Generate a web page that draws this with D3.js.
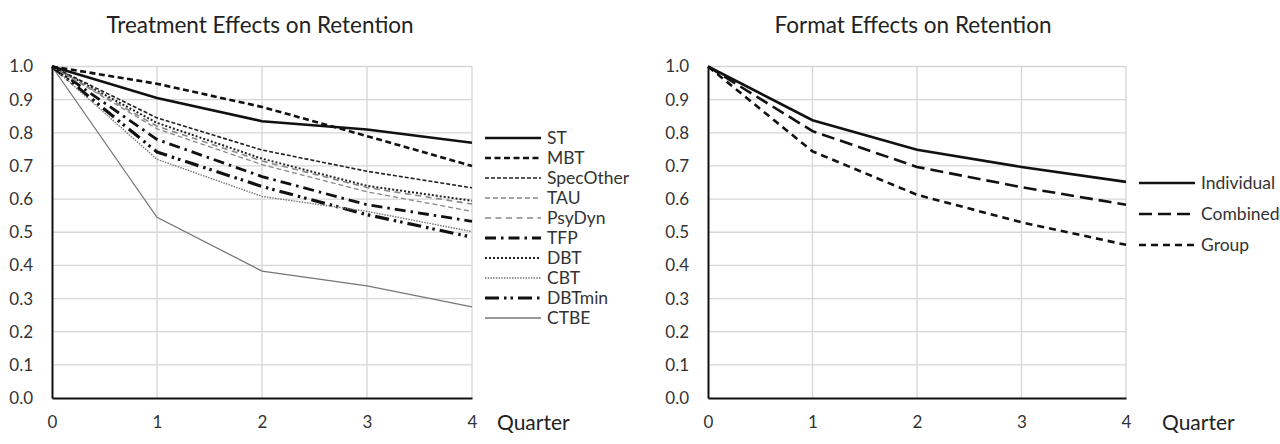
<!DOCTYPE html>
<html>
<head>
<meta charset="utf-8">
<script src="https://cdn.jsdelivr.net/npm/d3@7"></script>
<style>
  body { margin: 0; background: #fff; }
  svg { display: block; font-family: Lato, "Open Sans", sans-serif; }
</style>
</head>
<body>
<svg id="chart" width="1280" height="444"></svg>
<script>
// ── Data ──
const quarters = [0, 1, 2, 3, 4];
const yTicks = [0, 0.1, 0.2, 0.3, 0.4, 0.5, 0.6, 0.7, 0.8, 0.9, 1.0];

const treatmentNames = ["ST", "MBT", "SpecOther", "TAU", "PsyDyn", "TFP", "DBT", "CBT", "DBTmin", "CTBE"];
const stValues        = [1, 0.905, 0.835, 0.81, 0.77];
const mbtValues       = [1, 0.948, 0.878, 0.79, 0.70];
const specOtherValues = [1, 0.845, 0.748, 0.684, 0.634];
const tauValues       = [1, 0.812, 0.704, 0.622, 0.563];
const psyDynValues    = [1, 0.82, 0.715, 0.635, 0.585];
const tfpValues       = [1, 0.78, 0.668, 0.583, 0.533];
const dbtValues       = [1, 0.83, 0.722, 0.64, 0.595];
const cbtValues       = [1, 0.72, 0.608, 0.563, 0.502];
const dbtMinValues    = [1, 0.742, 0.638, 0.553, 0.485];
const ctbeValues      = [1, 0.545, 0.383, 0.338, 0.275];

const formatNames = ["Individual", "Combined", "Group"];
const individualValues = [1, 0.838, 0.749, 0.697, 0.652];
const combinedValues   = [1, 0.805, 0.697, 0.636, 0.583];
const groupValues      = [1, 0.744, 0.613, 0.530, 0.462];

// ── Styles per series ──
const treatmentStyles = {
  ST:        { color: "#111", width: 2.6, dash: null },
  MBT:       { color: "#111", width: 2.6, dash: "6,3.5" },
  SpecOther: { color: "#222", width: 1.6, dash: "4,2" },
  TAU:       { color: "#888", width: 1.3, dash: "5,3" },
  PsyDyn:    { color: "#888", width: 1.6, dash: "6,4.5" },
  TFP:       { color: "#111", width: 2.8, dash: "11,5,2.5,5" },
  DBT:       { color: "#222", width: 2.0, dash: "2,2" },
  CBT:       { color: "#777", width: 1.4, dash: "1.5,1.2" },
  DBTmin:    { color: "#111", width: 3.2, dash: "14,5,2.5,4,2.5,5" },
  CTBE:      { color: "#777", width: 1.3, dash: null }
};
const formatStyles = {
  Individual: { color: "#111", width: 2.6, dash: null },
  Combined:   { color: "#111", width: 2.6, dash: "13,6" },
  Group:      { color: "#111", width: 2.6, dash: "7,5" }
};

const treatmentSeries = treatmentNames.map((name, i) => ({
  name,
  values: [stValues, mbtValues, specOtherValues, tauValues, psyDynValues,
           tfpValues, dbtValues, cbtValues, dbtMinValues, ctbeValues][i]
}));
const formatSeries = formatNames.map((name, i) => ({
  name,
  values: [individualValues, combinedValues, groupValues][i]
}));

const svg = d3.select("#chart");

function drawPanel(opts) {
  const { left, right, top, bottom, title, titleX, series, styles, legendX, legendY, legendStep, quarterX } = opts;
  const x = d3.scaleLinear().domain([0, 4]).range([left, right]);
  const y = d3.scaleLinear().domain([0, 1]).range([bottom, top]);
  const g = svg.append("g");

  // title
  g.append("text")
    .attr("x", titleX).attr("y", 33)
    .attr("text-anchor", "middle")
    .style("font-size", "22.5px")
    .style("fill", "#222")
    .text(title);

  // grid
  g.append("g").selectAll("line")
    .data(yTicks.filter(d => d > 0))
    .join("line")
    .attr("x1", left).attr("x2", right)
    .attr("y1", d => y(d)).attr("y2", d => y(d))
    .attr("stroke", "#d6d6d6").attr("stroke-width", 1.3);
  g.append("g").selectAll("line")
    .data(quarters.filter(d => d > 0))
    .join("line")
    .attr("x1", d => x(d)).attr("x2", d => x(d))
    .attr("y1", top).attr("y2", bottom)
    .attr("stroke", "#d6d6d6").attr("stroke-width", 1.3);

  // axes
  const yAxis = g.append("g")
    .attr("transform", `translate(${left},0)`)
    .call(d3.axisLeft(y).tickValues(yTicks).tickFormat(d3.format(".1f")).tickSize(0).tickPadding(19));
  yAxis.select(".domain").attr("stroke", "#111").attr("stroke-width", 2);
  yAxis.selectAll("text").style("font-size", "17px").style("fill", "#333")
    .style("font-family", "Lato, 'Open Sans', sans-serif");

  const xAxis = g.append("g")
    .attr("transform", `translate(0,${bottom})`)
    .call(d3.axisBottom(x).tickValues(quarters).tickFormat(d3.format("d")).tickSize(0).tickPadding(18));
  xAxis.select(".domain").attr("stroke", "#111").attr("stroke-width", 2);
  xAxis.selectAll("text").style("font-size", "17px").style("fill", "#333")
    .style("font-family", "Lato, 'Open Sans', sans-serif");

  g.append("text")
    .attr("x", quarterX).attr("y", 430)
    .style("font-size", "21px").style("fill", "#222")
    .text("Quarter");

  // lines
  const line = d3.line().x((d, i) => x(quarters[i])).y(d => y(d));
  g.append("g").selectAll("path")
    .data(series.slice().reverse())
    .join("path")
    .attr("d", d => line(d.values))
    .attr("fill", "none")
    .attr("stroke", d => styles[d.name].color)
    .attr("stroke-width", d => styles[d.name].width)
    .attr("stroke-dasharray", d => styles[d.name].dash);

  // legend
  const leg = g.append("g").selectAll("g")
    .data(series)
    .join("g")
    .attr("transform", (d, i) => `translate(${legendX},${legendY + i * legendStep})`);
  leg.append("line")
    .attr("x1", 0).attr("x2", 56)
    .attr("stroke", d => styles[d.name].color)
    .attr("stroke-width", d => styles[d.name].width)
    .attr("stroke-dasharray", d => styles[d.name].dash);
  leg.append("text")
    .attr("x", 62).attr("dy", "0.35em")
    .style("font-size", "17.5px").style("fill", "#333")
    .text(d => d.name);
}

drawPanel({
  left: 52, right: 472, top: 66.5, bottom: 398,
  title: "Treatment Effects on Retention", titleX: 260,
  series: treatmentSeries, styles: treatmentStyles,
  legendX: 485, legendY: 138, legendStep: 20, quarterX: 497
});

drawPanel({
  left: 708, right: 1126, top: 66.5, bottom: 398,
  title: "Format Effects on Retention", titleX: 913,
  series: formatSeries, styles: formatStyles,
  legendX: 1139, legendY: 183, legendStep: 31, quarterX: 1162
});
</script>
</body>
</html>
